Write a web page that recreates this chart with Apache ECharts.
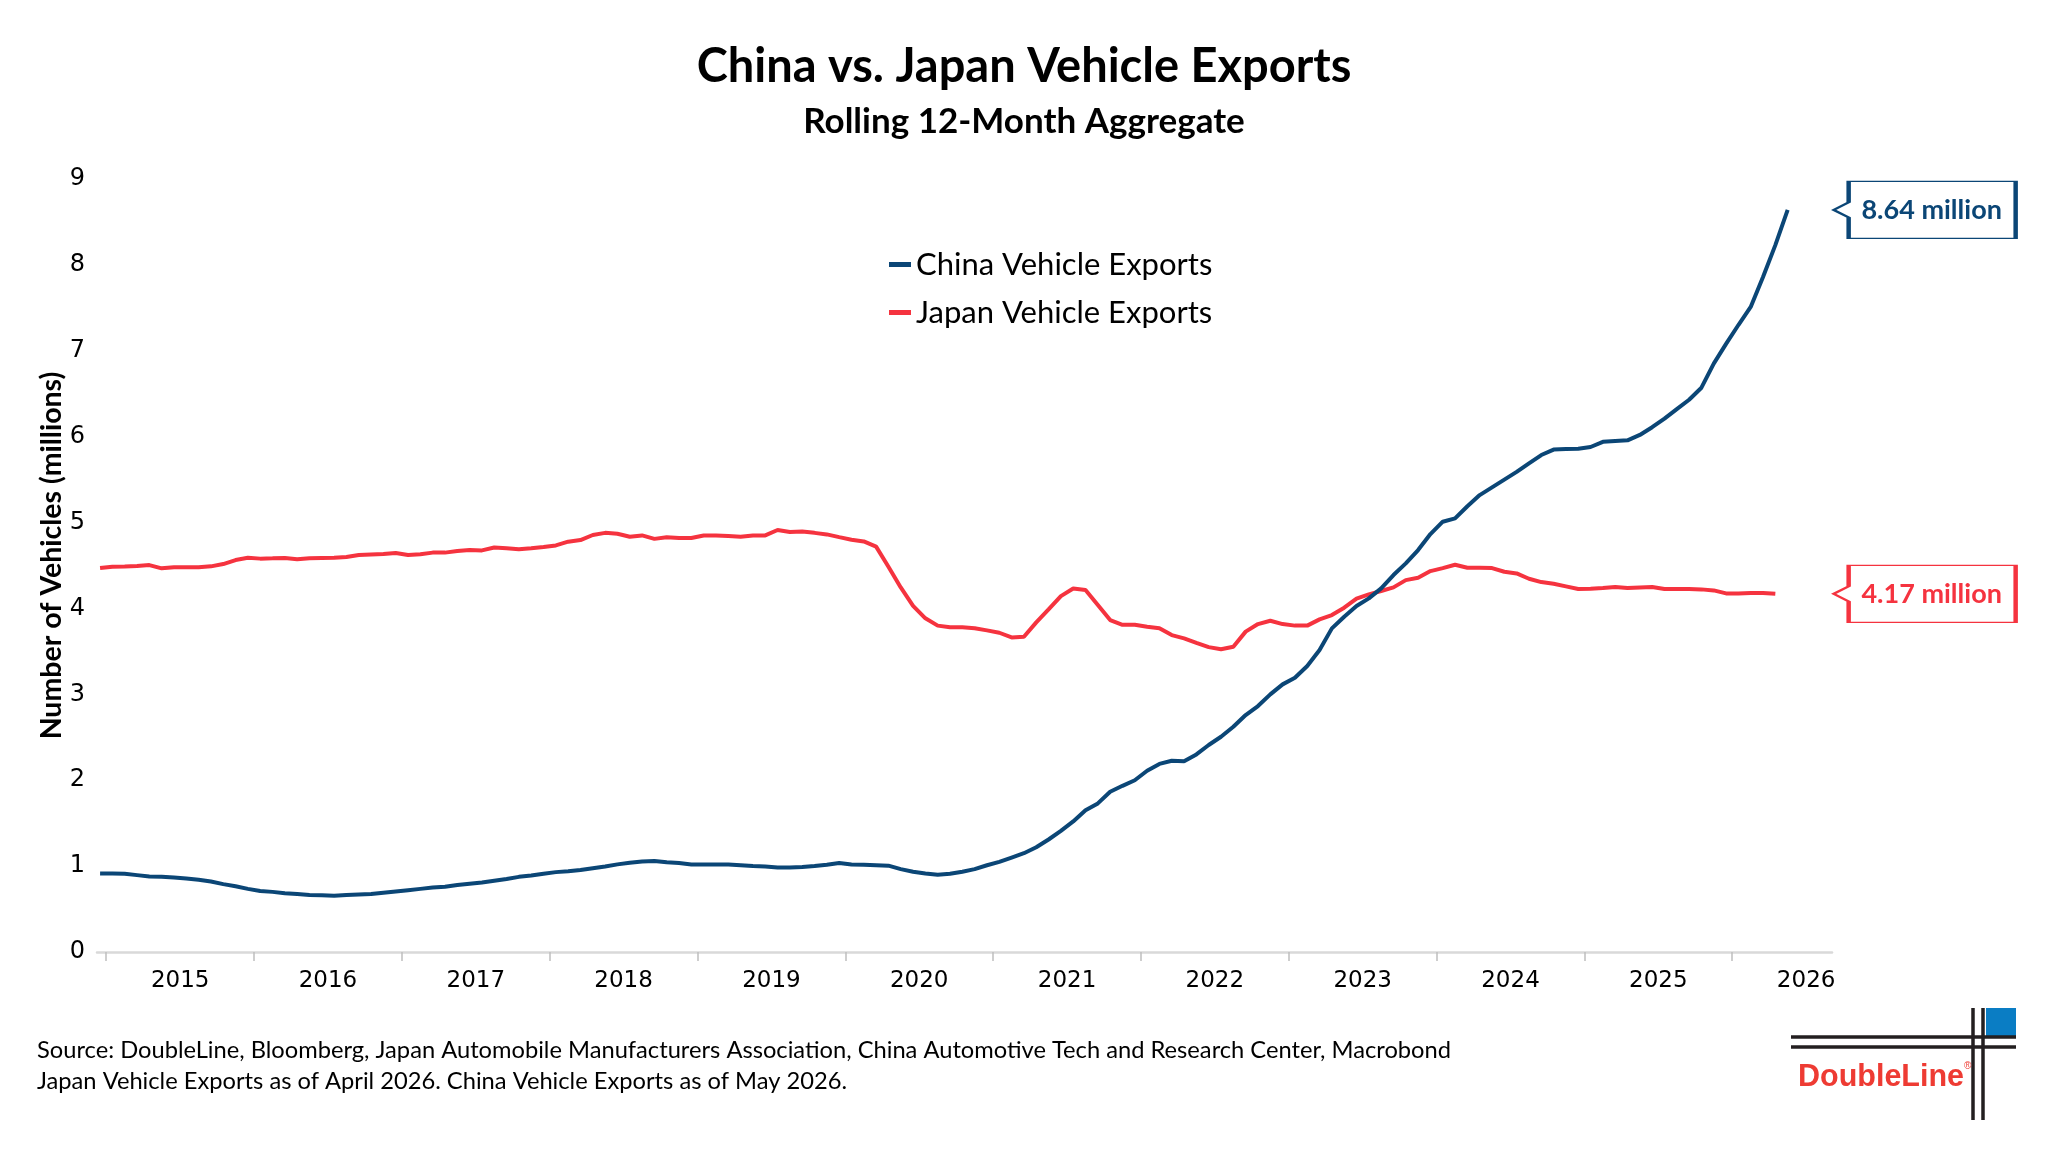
<!DOCTYPE html>
<html>
<head>
<meta charset="utf-8">
<script src="https://cdn.jsdelivr.net/npm/echarts@6/dist/echarts.min.js"></script>
<style>
html,body{margin:0;padding:0;background:#fff;}
#chart{width:2048px;height:1152px;}
</style>
</head>
<body>
<div id="chart"></div>
<script>
// ---------------- DATA ----------------
const years = [2015, 2016, 2017, 2018, 2019, 2020, 2021, 2022, 2023, 2024, 2025, 2026];
const firstMonth = '2014-12'; // both series start Dec 2014 (monthly, rolling 12-month sum)
const yTicks = [0, 1, 2, 3, 4, 5, 6, 7, 8, 9];

// China vehicle exports, millions, Dec 2014 – May 2026
const chinaExports = [
  0.915,
  0.913, 0.91, 0.895, 0.88, 0.876, 0.868, 0.856, 0.84, 0.82, 0.79, 0.765, 0.735,
  0.71, 0.70, 0.685, 0.675, 0.665, 0.66, 0.655, 0.665, 0.67, 0.675, 0.69, 0.705,
  0.72, 0.735, 0.75, 0.76, 0.78, 0.795, 0.81, 0.83, 0.85, 0.875, 0.89, 0.91,
  0.93, 0.94, 0.955, 0.975, 0.995, 1.02, 1.04, 1.055, 1.06, 1.045, 1.035, 1.02,
  1.02, 1.02, 1.02, 1.01, 1.0, 0.995, 0.985, 0.985, 0.99, 1.0, 1.015, 1.035,
  1.02, 1.015, 1.01, 1.005, 0.965, 0.935, 0.915, 0.90, 0.91, 0.935, 0.965, 1.01,
  1.05, 1.10, 1.15, 1.22, 1.31, 1.41, 1.52, 1.65, 1.73, 1.865, 1.935, 2.00,
  2.11, 2.19, 2.227, 2.22, 2.30, 2.41, 2.506, 2.623, 2.759, 2.864, 3.00, 3.116,
  3.193, 3.33, 3.516, 3.768, 3.904, 4.028, 4.117, 4.234, 4.389, 4.525, 4.68, 4.866,
  5.01, 5.048, 5.19, 5.32, 5.41, 5.50, 5.59, 5.69, 5.786, 5.85, 5.855, 5.86,
  5.88, 5.94, 5.95, 5.957, 6.02, 6.11, 6.21, 6.32, 6.43, 6.57, 6.85, 7.08,
  7.30, 7.51, 7.86, 8.23, 8.64
];

// Japan vehicle exports, millions, Dec 2014 – Apr 2026
const japanExports = [
  4.47,
  4.485, 4.487, 4.495, 4.505, 4.467, 4.48, 4.48, 4.48, 4.49, 4.517, 4.563, 4.59,
  4.58, 4.583, 4.587, 4.572, 4.584, 4.587, 4.59, 4.60, 4.622, 4.628, 4.633, 4.645,
  4.622, 4.63, 4.65, 4.65, 4.668, 4.68, 4.676, 4.71, 4.70, 4.69, 4.70, 4.715,
  4.734, 4.777, 4.796, 4.855, 4.88, 4.87, 4.835, 4.85, 4.81, 4.83, 4.82, 4.82,
  4.85, 4.85, 4.843, 4.835, 4.85, 4.85, 4.913, 4.89, 4.895, 4.88, 4.862, 4.83,
  4.80, 4.78, 4.72, 4.486, 4.245, 4.03, 3.885, 3.80, 3.78, 3.78, 3.77, 3.745,
  3.717, 3.663, 3.67, 3.838, 3.99, 4.144, 4.233, 4.214, 4.04, 3.865, 3.81, 3.81,
  3.787, 3.77, 3.69, 3.652, 3.60, 3.55, 3.524, 3.554, 3.73, 3.818, 3.857, 3.818,
  3.80, 3.80, 3.873, 3.923, 4.009, 4.113, 4.164, 4.203, 4.245, 4.33, 4.358, 4.435,
  4.47, 4.509, 4.474, 4.474, 4.47, 4.427, 4.408, 4.346, 4.307, 4.288, 4.257, 4.226,
  4.23, 4.237, 4.249, 4.237, 4.245, 4.249, 4.226, 4.226, 4.226, 4.222, 4.21, 4.175,
  4.175, 4.18, 4.18, 4.17
];

const seriesNames = ['China Vehicle Exports', 'Japan Vehicle Exports'];
const titleText = 'China vs. Japan Vehicle Exports';
const subtitleText = 'Rolling 12-Month Aggregate';
const yAxisTitle = 'Number of Vehicles (millions)';
const sourceLines = [
  'Source: DoubleLine, Bloomberg, Japan Automobile Manufacturers Association, China Automotive Tech and Research Center, Macrobond',
  'Japan Vehicle Exports as of April 2026. China Vehicle Exports as of May 2026.'
];

// ---------------- HELPERS ----------------
function monthList(start, n) {
  const [y0, m0] = start.split('-').map(Number);
  const out = [];
  for (let i = 0; i < n; i++) {
    const t = y0 * 12 + (m0 - 1) + i;
    out.push(Math.floor(t / 12) + '-' + String((t % 12) + 1).padStart(2, '0'));
  }
  return out;
}
// x position in months since Jan 2015; each month sits in the middle of its slot
function xPos(ym) {
  const [y, m] = ym.split('-').map(Number);
  return (y - years[0]) * 12 + (m - 1) + 0.5;
}
const chinaMonths = monthList(firstMonth, chinaExports.length);
const japanMonths = monthList(firstMonth, japanExports.length);
const chinaData = chinaMonths.map((ym, i) => [xPos(ym), chinaExports[i]]);
const japanData = japanMonths.map((ym, i) => [xPos(ym), japanExports[i]]);

const CHINA = '#0b4676';
const JAPAN = '#f5333f';
const FONT = 'Lato';
const NUMFONT = 'DejaVu Sans';

const calloutPath = 'path://M15 0 L182 0 L182 57 L15 57 L15 36 L0 28.5 L15 21 Z';
const lastX = chinaData[chinaData.length - 1][0];
function callout(value, color) {
  return {
    symbol: calloutPath,
    symbolSize: [182, 57],
    symbolKeepAspect: false,
    symbolOffset: [137, 0],
    silent: true,
    itemStyle: { color: '#ffffff', borderColor: color, borderWidth: 2.5 },
    label: {
      show: true, position: 'inside', offset: [7, 0],
      formatter: value.toFixed(2) + ' million',
      color: color, fontFamily: FONT, fontWeight: 'bold', fontSize: 27
    },
    data: [{ coord: [lastX, value] }]
  };
}

// ---------------- CHART ----------------
const chart = echarts.init(document.getElementById('chart'), null, { renderer: 'canvas' });
const option = {
  animation: false,
  backgroundColor: '#ffffff',
  title: {
    text: titleText,
    subtext: subtitleText,
    left: 'center',
    top: 38,
    itemGap: 14,
    textStyle: { fontFamily: FONT, fontWeight: 'bold', fontSize: 47, color: '#000' },
    subtextStyle: { fontFamily: FONT, fontWeight: 'bold', fontSize: 35, color: '#000' }
  },
  legend: {
    data: seriesNames,
    orient: 'vertical',
    left: 884,
    top: 244,
    itemGap: 17,
    itemWidth: 22,
    itemHeight: 5,
    icon: 'rect',
    textStyle: { fontFamily: FONT, fontSize: 31, color: '#000' }
  },
  grid: { left: 97, right: 216, top: 179, bottom: 200 },
  xAxis: {
    type: 'value',
    min: -0.75,
    max: 140.1,
    axisLine: { show: true, lineStyle: { color: '#d9d9d9', width: 2.5 } },
    axisTick: {
      show: true,
      customValues: years.map(y => (y - years[0]) * 12),
      length: 9,
      inside: false,
      lineStyle: { color: '#bfbfbf', width: 1.5 }
    },
    axisLabel: {
      customValues: years.map(y => (y - years[0]) * 12 + 6),
      formatter: v => String(years[0] + Math.round((v - 6) / 12)),
      fontFamily: NUMFONT, fontSize: 23, color: '#000', margin: 18
    },
    splitLine: { show: false }
  },
  yAxis: {
    type: 'value',
    min: yTicks[0],
    max: yTicks[yTicks.length - 1],
    interval: 1,
    axisLine: { show: false },
    axisTick: { show: false },
    splitLine: { show: false },
    axisLabel: { fontFamily: NUMFONT, fontSize: 24, color: '#000', margin: 12 },
    name: yAxisTitle,
    nameLocation: 'middle',
    nameRotate: 90,
    nameGap: 31,
    nameMoveOverlap: false,
    nameTextStyle: { fontFamily: FONT, fontWeight: 'bold', fontSize: 28.5, color: '#000', padding: [0, 0, 0, 20] }
  },
  series: [
    {
      name: seriesNames[0],
      type: 'line',
      data: chinaData,
      showSymbol: false,
      symbol: 'none',
      z: 3,
      lineStyle: { color: CHINA, width: 4 },
      itemStyle: { color: CHINA },
      markPoint: callout(chinaExports[chinaExports.length - 1], CHINA)
    },
    {
      name: seriesNames[1],
      type: 'line',
      data: japanData,
      showSymbol: false,
      symbol: 'none',
      z: 2,
      lineStyle: { color: JAPAN, width: 4 },
      itemStyle: { color: JAPAN },
      markPoint: callout(japanExports[japanExports.length - 1], JAPAN)
    }
  ],
  graphic: [
    { type: 'text', left: 37, top: 1038, style: { text: sourceLines[0], font: '23.7px Lato', fill: '#000' } },
    { type: 'text', left: 37, top: 1069, style: { text: sourceLines[1], font: '23.7px Lato', fill: '#000' } },
    // DoubleLine logo
    { type: 'rect', shape: { x: 1986, y: 1008, width: 30, height: 28 }, style: { fill: '#0a7dc4' } },
    { type: 'line', shape: { x1: 1791, y1: 1037, x2: 2016, y2: 1037 }, style: { stroke: '#231f20', lineWidth: 3.5 } },
    { type: 'line', shape: { x1: 1791, y1: 1047, x2: 2016, y2: 1047 }, style: { stroke: '#231f20', lineWidth: 3.5 } },
    { type: 'line', shape: { x1: 1973, y1: 1008, x2: 1973, y2: 1120 }, style: { stroke: '#231f20', lineWidth: 3.5 } },
    { type: 'line', shape: { x1: 1983, y1: 1008, x2: 1983, y2: 1120 }, style: { stroke: '#231f20', lineWidth: 3.5 } },
    { type: 'text', left: 1798, top: 1062, style: { text: 'DoubleLine', font: 'bold 30.5px "Liberation Sans"', fill: '#ee3b33' } },
    { type: 'text', left: 1964, top: 1061, style: { text: '®', font: '10px "Liberation Sans"', fill: '#ee3b33' } }
  ]
};
chart.setOption(option);
</script>
</body>
</html>
